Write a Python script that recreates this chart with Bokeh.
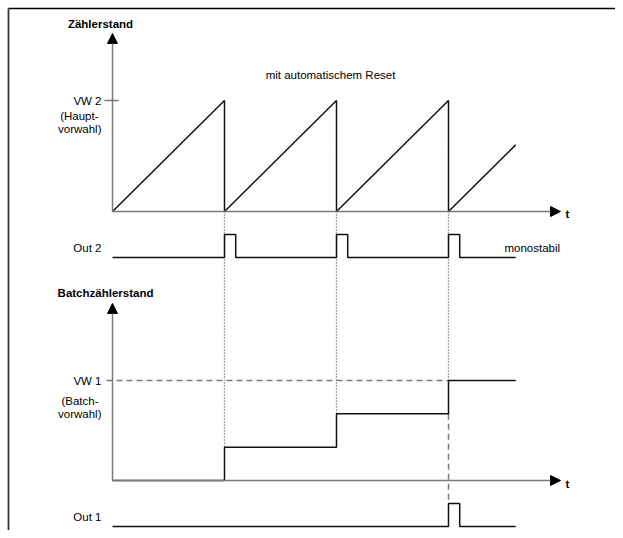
from bokeh.plotting import figure
from bokeh.models import Range1d, Arrow, NormalHead, Label
from bokeh.embed import file_html
from bokeh.resources import INLINE

# ---------------- data ----------------
reset_times = [1, 2, 3]
saw_t = [0, 1, 1, 2, 2, 3, 3, 3.6]
saw_v = [0, 100, 0, 100, 0, 100, 0, 60]
vw2 = 100
out2_t = [0, 1, 1, 1.1, 1.1, 2, 2, 2.1, 2.1, 3, 3, 3.1, 3.1, 3.6]
out2_v = [0, 0, 1, 1, 0, 0, 1, 1, 0, 0, 1, 1, 0, 0]
batch_t = [0, 1, 1, 2, 2, 3, 3, 3.6]
batch_v = [0, 0, 1, 1, 2, 2, 3, 3]
vw1 = 3
out1_t = [0, 3, 3, 3.1, 3.1, 3.6]
out1_v = [0, 0, 1, 1, 0, 0]
t_axis_end = 4.0

labels_upper = ["Zählerstand", "VW 2", "(Haupt-", "vorwahl)", "mit automatischem Reset", "t"]
labels_lower = ["Out 2", "monostabil", "Batchzählerstand", "VW 1", "(Batch-", "vorwahl)", "t", "Out 1"]

# ---------------- layout ----------------
W, H = 615, 530
X0, PER = 112.0, 112.0          # picture x of t=0, pixels per period


def X(px):      # picture x -> data x
    return (px - X0) / PER


def Y(py):      # picture y -> data y
    return H - py


UP_BASE, UP_SCALE = Y(211), 111.0 / vw2
O2_BASE, PULSE = Y(257), 23
LO_BASE, LO_SCALE = Y(480), 100.0 / vw1
O1_BASE = Y(526)


def yu(v): return UP_BASE + v * UP_SCALE
def yo2(v): return O2_BASE + v * PULSE
def yb(v): return LO_BASE + v * LO_SCALE
def yo1(v): return O1_BASE + v * PULSE


p = figure(width=W, height=H, output_backend="svg", toolbar_location=None,
           x_range=Range1d(X(0), X(W)), y_range=Range1d(0, H),
           min_border=0, min_border_left=0, min_border_right=0,
           min_border_top=0, min_border_bottom=0)
p.xaxis.visible = False
p.yaxis.visible = False
p.grid.visible = False
p.outline_line_color = None
p.background_fill_color = "white"
p.border_fill_color = "white"

AXC = "#7a7a7a"
FONT = "Liberation Sans"

# frame (top & left)
p.line([X(8), X(W)], [Y(8), Y(8)], line_color="black", line_width=1.6)
p.line([X(8), X(8)], [Y(8), 0], line_color="#333333", line_width=1.8)

# dotted reset guides
for r in reset_times:
    lvl = batch_v[batch_t.index(r) + 1]
    p.line([r, r], [UP_BASE, yb(lvl)], line_color="#555555", line_width=1.3, line_dash="1 2")

# dashed VW1 level and dashed link to Out 1
p.line([X(106), reset_times[-1]], [yb(vw1), yb(vw1)], line_color=AXC, line_width=1.5, line_dash="6 4")
p.line([reset_times[-1], reset_times[-1]], [yb(vw1 - 1), yo1(1)], line_color=AXC, line_width=1.5, line_dash="6 4")

# VW2 tick
p.line([X(104), X(118)], [yu(vw2), yu(vw2)], line_color=AXC, line_width=1.5)


def axis_arrow(x0, y0, x1, y1):
    p.add_layout(Arrow(end=NormalHead(size=10, fill_color="black", line_color="black", line_width=1),
                       x_start=x0, y_start=y0, x_end=x1, y_end=y1,
                       line_color=AXC, line_width=1.5))


axis_arrow(0, UP_BASE, 0, Y(33))
axis_arrow(0, UP_BASE, t_axis_end, UP_BASE)
axis_arrow(0, LO_BASE, 0, Y(303))
axis_arrow(0, LO_BASE, t_axis_end, LO_BASE)

# signals
p.line(saw_t, [yu(v) for v in saw_v], line_color="#111111", line_width=1.5)
p.line(out2_t, [yo2(v) for v in out2_v], line_color="#111111", line_width=1.5)
p.line(batch_t, [yb(v) for v in batch_v], line_color="#111111", line_width=1.5)
p.line(out1_t, [yo1(v) for v in out1_v], line_color="#111111", line_width=1.5)


def lab(txt, px, py, align="left", bold=False, size="11.5px"):
    p.add_layout(Label(x=X(px), y=Y(py), text=txt, text_font=FONT, text_font_size=size,
                       text_align=align, text_baseline="middle", text_color="black",
                       text_font_style="bold" if bold else "normal"))


lab(labels_upper[0], 100, 23, "center", True)
lab(labels_upper[1], 101, 100, "right")
lab(labels_upper[2], 98, 115, "right")
lab(labels_upper[3], 101, 128, "right")
lab(labels_upper[4], 330, 74, "center")
lab(labels_upper[5], 565, 213, "left", True)

lab(labels_lower[0], 101, 247, "right")
lab(labels_lower[1], 504, 247, "left")
lab(labels_lower[2], 105, 292, "center", True)
lab(labels_lower[3], 101, 380, "right")
lab(labels_lower[4], 98, 400, "right")
lab(labels_lower[5], 101, 413, "right")
lab(labels_lower[6], 565, 483, "left", True)
lab(labels_lower[7], 101, 516, "right")

open("out.html", "w").write(file_html(p, INLINE))
